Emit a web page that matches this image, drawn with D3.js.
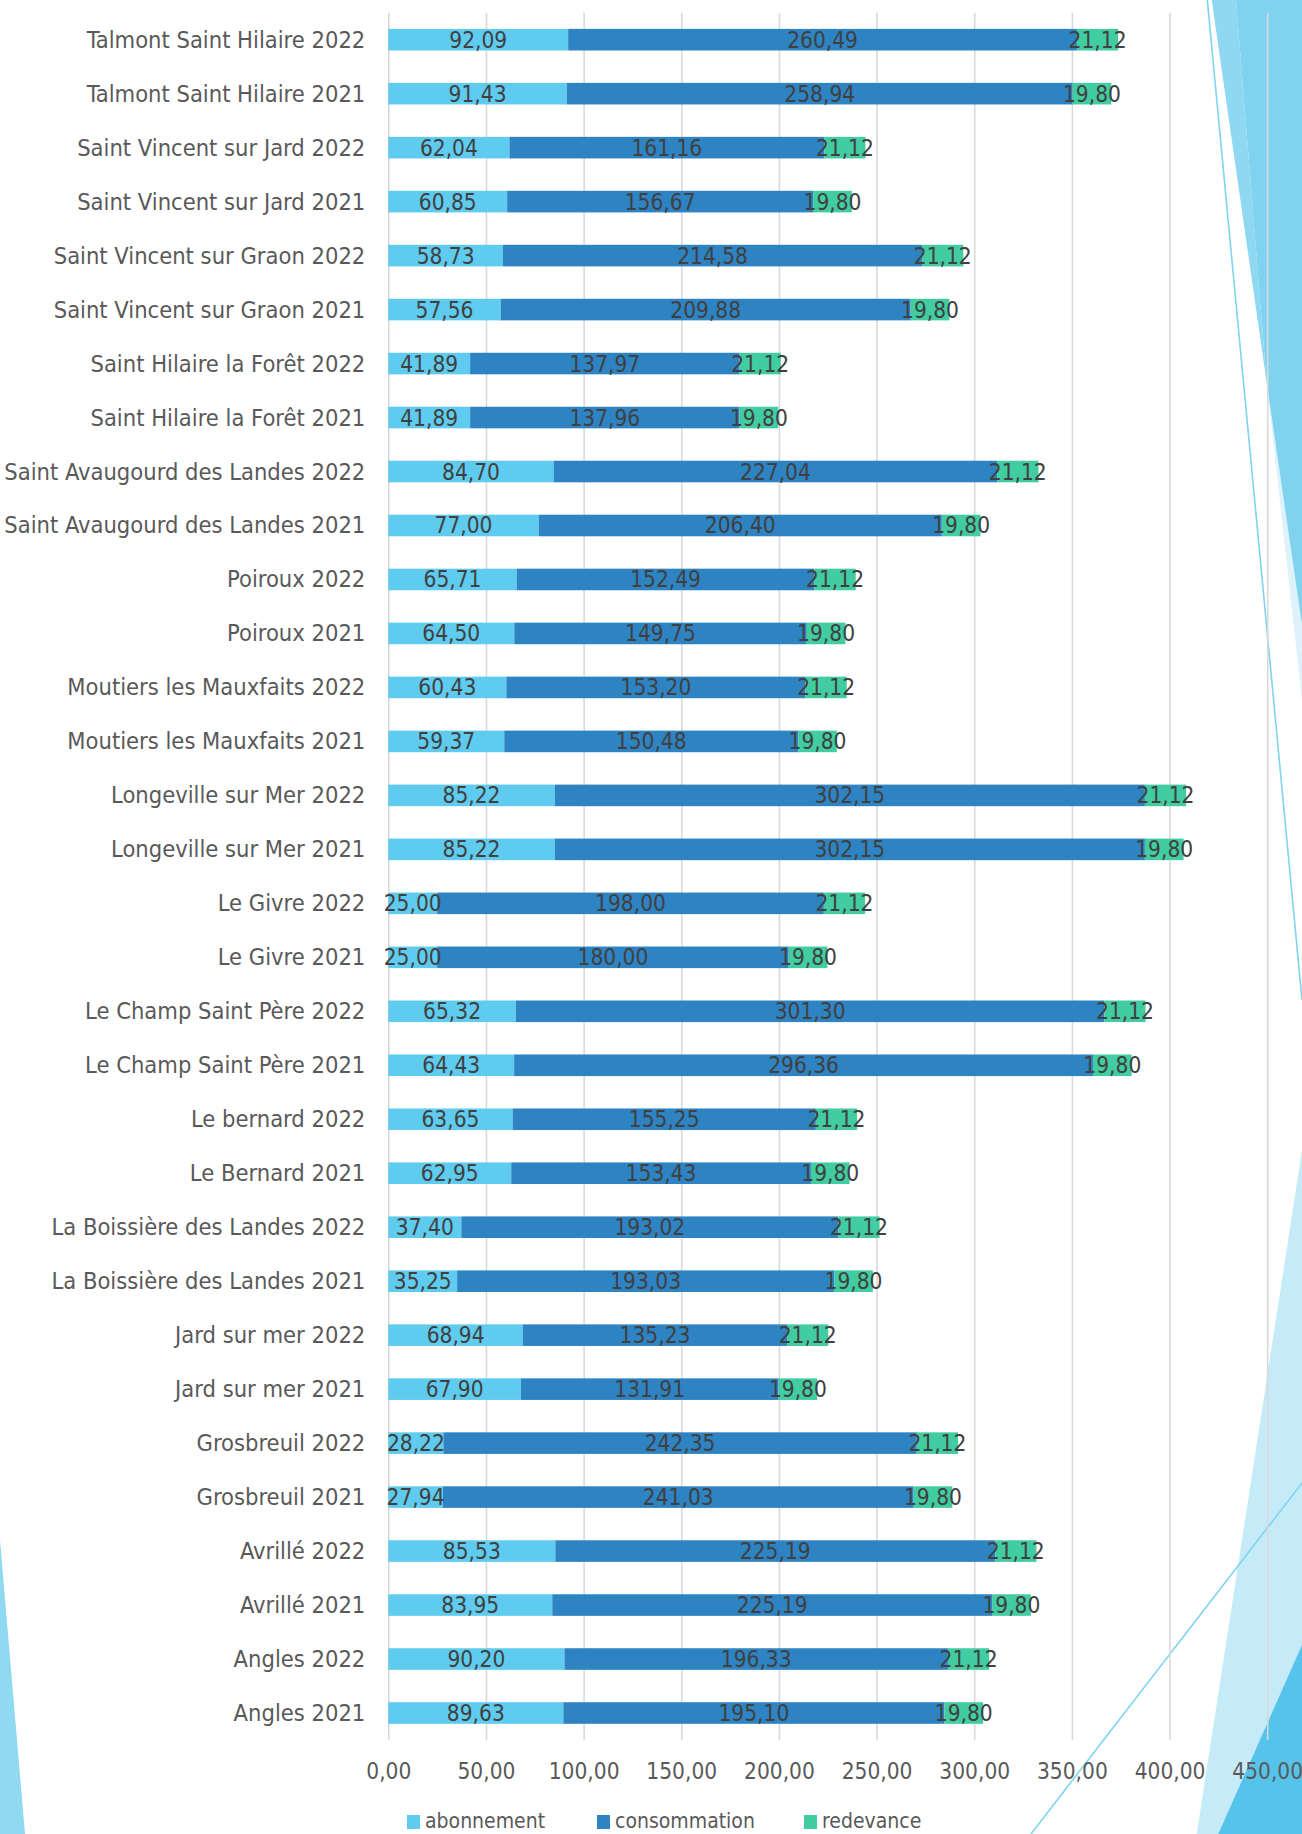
<!DOCTYPE html>
<html>
<head>
<meta charset="utf-8">
<script src="https://cdn.jsdelivr.net/npm/d3@7/dist/d3.min.js"></script>
<style>
  html, body { margin: 0; padding: 0; background: #ffffff; }
  svg { display: block; }
</style>
</head>
<body>
<svg id="chart" width="1302" height="1834"></svg>
<script>
// ---- Data (top to bottom as shown) ----
const categories = [
  "Talmont Saint Hilaire 2022", "Talmont Saint Hilaire 2021",
  "Saint Vincent sur Jard 2022", "Saint Vincent sur Jard 2021",
  "Saint Vincent sur Graon 2022", "Saint Vincent sur Graon 2021",
  "Saint Hilaire la Forêt 2022", "Saint Hilaire la Forêt 2021",
  "Saint Avaugourd des Landes 2022", "Saint Avaugourd des Landes 2021",
  "Poiroux 2022", "Poiroux 2021",
  "Moutiers les Mauxfaits 2022", "Moutiers les Mauxfaits 2021",
  "Longeville sur Mer 2022", "Longeville sur Mer 2021",
  "Le Givre 2022", "Le Givre 2021",
  "Le Champ Saint Père 2022", "Le Champ Saint Père 2021",
  "Le bernard 2022", "Le Bernard 2021",
  "La Boissière des Landes 2022", "La Boissière des Landes 2021",
  "Jard sur mer 2022", "Jard sur mer 2021",
  "Grosbreuil 2022", "Grosbreuil 2021",
  "Avrillé 2022", "Avrillé 2021",
  "Angles 2022", "Angles 2021"
];
const abonnement = [
  92.09, 91.43, 62.04, 60.85, 58.73, 57.56, 41.89, 41.89,
  84.70, 77.00, 65.71, 64.50, 60.43, 59.37, 85.22, 85.22,
  25.00, 25.00, 65.32, 64.43, 63.65, 62.95, 37.40, 35.25,
  68.94, 67.90, 28.22, 27.94, 85.53, 83.95, 90.20, 89.63
];
const consommation = [
  260.49, 258.94, 161.16, 156.67, 214.58, 209.88, 137.97, 137.96,
  227.04, 206.40, 152.49, 149.75, 153.20, 150.48, 302.15, 302.15,
  198.00, 180.00, 301.30, 296.36, 155.25, 153.43, 193.02, 193.03,
  135.23, 131.91, 242.35, 241.03, 225.19, 225.19, 196.33, 195.10
];
const redevance = [
  21.12, 19.80, 21.12, 19.80, 21.12, 19.80, 21.12, 19.80,
  21.12, 19.80, 21.12, 19.80, 21.12, 19.80, 21.12, 19.80,
  21.12, 19.80, 21.12, 19.80, 21.12, 19.80, 21.12, 19.80,
  21.12, 19.80, 21.12, 19.80, 21.12, 19.80, 21.12, 19.80
];
const seriesNames = ["abonnement", "consommation", "redevance"];
const seriesColors = ["#5FCBEF", "#2E83C3", "#41CDA1"];
const xTicks = [0, 50, 100, 150, 200, 250, 300, 350, 400, 450];

// ---- Setup ----
const svg = d3.select("#chart");
const FONT = "'DejaVu Sans Condensed', 'DejaVu Sans', sans-serif";
const fmt = v => d3.format(".2f")(v).replace(".", ",");

// ---- Background decorations (slide theme) ----
const deco = svg.append("g");
const polys = [
  { pts: [[1266.7,383],[1302,625],[1302,700]], fill: "#DDF2FA" },
  { pts: [[1211.7,0],[1236,0],[1266.7,383]], fill: "#8FD8F1" },
  { pts: [[1236,0],[1302,0],[1302,625],[1266.7,383]], fill: "#80D3EF" },
  { pts: [[1302,1150],[1196.7,1834],[1302,1834]], fill: "#C5EBF8" },
  { pts: [[1302,1645],[1218.3,1834],[1302,1834]], fill: "#55C3EA" },
  { pts: [[0,1540],[25,1834],[0,1834]], fill: "#8FD9F1" }
];
deco.selectAll("polygon").data(polys).join("polygon")
  .attr("points", d => d.pts.map(p => p.join(",")).join(" "))
  .attr("fill", d => d.fill);
const lines = [
  [[1207.3,0],[1302,1000]],
  [[1302,1483],[1031,1834]]
];
deco.selectAll("path").data(lines).join("path")
  .attr("d", d => d3.line()(d))
  .attr("stroke", "#7FD4F0").attr("stroke-width", 1.6).attr("fill", "none");

// ---- Scales ----
const plotTop = 12.7, plotBottom = 1740;
const x = d3.scaleLinear().domain([0, 450]).range([388.3, 1267.2]);
const y = d3.scaleBand().domain(categories).range([plotTop, plotBottom])
  .paddingInner(0.6).paddingOuter(0.3);

// ---- Grid / X axis ----
const xAxis = d3.axisBottom(x).tickValues(xTicks).tickFormat(fmt)
  .tickSizeInner(-(plotBottom - plotTop)).tickSizeOuter(0).tickPadding(23);
const gx = svg.append("g").attr("transform", `translate(0,${plotBottom})`).call(xAxis);
gx.select(".domain").remove();
gx.selectAll(".tick line").attr("stroke", "#D9D9D9").attr("stroke-width", 1.6);
gx.selectAll(".tick text").attr("fill", "#595959")
  .style("font-family", FONT).style("font-size", "22.5px");

// ---- Y axis (category labels) ----
const yAxis = d3.axisLeft(y).tickSize(0).tickPadding(23);
const gy = svg.append("g").attr("transform", `translate(${x(0)},0)`).call(yAxis);
gy.select(".domain").remove();
gy.selectAll(".tick text").attr("fill", "#595959")
  .attr("dy", null).attr("dominant-baseline", "central")
  .style("font-family", FONT).style("font-size", "23.5px");

// ---- Stacked data ----
const rows = categories.map((c, i) => ({
  cat: c, abonnement: abonnement[i], consommation: consommation[i], redevance: redevance[i]
}));
const stacked = d3.stack().keys(seriesNames)(rows);

const gBars = svg.append("g");
stacked.forEach((layer, si) => {
  gBars.append("g").attr("fill", seriesColors[si])
    .selectAll("rect").data(layer).join("rect")
    .attr("x", d => x(d[0]))
    .attr("y", d => y(d.data.cat))
    .attr("width", d => x(d[1]) - x(d[0]))
    .attr("height", y.bandwidth());
});

// ---- Data labels (drawn over all bars) ----
const gLabels = svg.append("g");
stacked.forEach((layer, si) => {
  gLabels.append("g").selectAll("text").data(layer).join("text")
    .attr("x", d => x((d[0] + d[1]) / 2))
    .attr("y", d => y(d.data.cat) + y.bandwidth() / 2)
    .attr("text-anchor", "middle")
    .attr("dominant-baseline", "central")
    .attr("fill", "#404040")
    .style("font-family", FONT).style("font-size", "22.5px")
    .text(d => fmt(d[1] - d[0]));
});

// ---- Legend ----
const legendItems = [
  { name: seriesNames[0], color: seriesColors[0], x: 407 },
  { name: seriesNames[1], color: seriesColors[1], x: 597 },
  { name: seriesNames[2], color: seriesColors[2], x: 804 }
];
const gLeg = svg.append("g");
const li = gLeg.selectAll("g").data(legendItems).join("g")
  .attr("transform", d => `translate(${d.x},1815)`);
li.append("rect").attr("width", 13).attr("height", 14).attr("fill", d => d.color);
li.append("text").attr("x", 18).attr("y", 13)
  .attr("fill", "#595959")
  .style("font-family", FONT).style("font-size", "21px")
  .text(d => d.name);
</script>
</body>
</html>
